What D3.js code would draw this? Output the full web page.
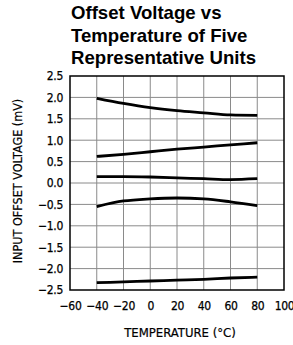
<!DOCTYPE html>
<html>
<head>
<meta charset="utf-8">
<script src="https://cdn.jsdelivr.net/npm/d3@7"></script>
<style>
  body { margin: 0; background: #fff; }
  svg { display: block; }
</style>
</head>
<body>
<div id="chart"></div>
<script>
// Temperatures (°C) where each unit was read
const temps = [-40, -20, 0, 20, 40, 60, 80];

// Input offset voltage (mV) for the five units
const unit1 = [1.98, 1.86, 1.76, 1.69, 1.64, 1.59, 1.58];
const unit2 = [0.62, 0.67, 0.73, 0.79, 0.84, 0.89, 0.94];
const unit3 = [0.15, 0.15, 0.14, 0.12, 0.10, 0.08, 0.10];
const unit4 = [-0.55, -0.42, -0.37, -0.35, -0.37, -0.44, -0.53];
const unit5 = [-2.33, -2.31, -2.29, -2.27, -2.25, -2.22, -2.20];
const units = [unit1, unit2, unit3, unit4, unit5];

const xTicks = [-60, -40, -20, 0, 20, 40, 60, 80, 100];
const yTicks = [2.5, 2.0, 1.5, 1.0, 0.5, 0.0, -0.5, -1.0, -1.5, -2.0, -2.5];

const titleLines = ['Offset Voltage vs', 'Temperature of Five', 'Representative Units'];
const xLabel = 'TEMPERATURE (°C)';
const yLabel = 'INPUT OFFSET VOLTAGE (mV)';

const width = 293, height = 345;
const margin = {top: 76, right: 9, bottom: 55, left: 70};
const narrow = '"Liberation Sans Narrow", "DejaVu Sans Condensed", "Liberation Sans", sans-serif';

const svg = d3.select('#chart').append('svg')
  .attr('width', width)
  .attr('height', height)
  .attr('viewBox', [0, 0, width, height]);

const x = d3.scaleLinear().domain([-60, 100]).range([margin.left, width - margin.right]);
const y = d3.scaleLinear().domain([-2.5, 2.5]).range([height - margin.bottom, margin.top]);

// Title
svg.append('g').selectAll('text')
  .data(titleLines)
  .enter().append('text')
  .attr('x', 71)
  .attr('y', (d, i) => 19 + i * 22.7)
  .style('font-family', '"Liberation Sans", Arial, sans-serif')
  .style('font-weight', 'bold')
  .style('font-size', '18.6px')
  .text(d => d);

// Grid
const grid = svg.append('g').attr('stroke', '#8a8a8a').attr('stroke-width', 1);
grid.selectAll('.vx')
  .data(xTicks.slice(1, -1))
  .enter().append('line')
  .attr('x1', d => x(d)).attr('x2', d => x(d))
  .attr('y1', y(2.5)).attr('y2', y(-2.5));
grid.selectAll('.hy')
  .data(yTicks.slice(1, -1))
  .enter().append('line')
  .attr('x1', x(-60)).attr('x2', x(100))
  .attr('y1', d => y(d)).attr('y2', d => y(d));

// Frame
svg.append('rect')
  .attr('x', x(-60)).attr('y', y(2.5))
  .attr('width', x(100) - x(-60)).attr('height', y(-2.5) - y(2.5))
  .attr('fill', 'none').attr('stroke', '#000').attr('stroke-width', 1.5);

// Axes (labels only)
const fmtMinus = s => s.replace('-', '\u2212');
const xAxis = svg.append('g')
  .attr('transform', `translate(0,${y(-2.5)})`)
  .call(d3.axisBottom(x).tickValues(xTicks).tickSize(0).tickPadding(11)
    .tickFormat(d => fmtMinus(d3.format('d')(d))));
const yAxis = svg.append('g')
  .attr('transform', `translate(${x(-60)},0)`)
  .call(d3.axisLeft(y).tickValues(yTicks).tickSize(0).tickPadding(7)
    .tickFormat(d => fmtMinus(d3.format('.1f')(d))));
[xAxis, yAxis].forEach(a => {
  a.select('.domain').remove();
  a.selectAll('text')
    .attr('fill', '#000')
    .style('font-family', narrow)
    .style('font-size', '12px')
    .style('letter-spacing', '-0.3px')
    .attr('stroke', '#000')
    .attr('stroke-width', 0.25);
});

// Curves
const line = d3.line()
  .x((d, i) => x(temps[i]))
  .y(d => y(d))
  .curve(d3.curveMonotoneX);
svg.append('g').selectAll('path')
  .data(units)
  .enter().append('path')
  .attr('d', line)
  .attr('fill', 'none')
  .attr('stroke', '#000')
  .attr('stroke-width', 2.8);

// Axis titles
svg.append('text')
  .attr('x', 180)
  .attr('y', 337)
  .attr('text-anchor', 'middle')
  .style('font-family', narrow)
  .style('font-size', '13px')
  .attr('stroke', '#000')
  .attr('stroke-width', 0.2)
  .text(xLabel);
svg.append('text')
  .attr('transform', `translate(22,181) rotate(-90)`)
  .attr('text-anchor', 'middle')
  .style('font-family', narrow)
  .style('font-size', '12.5px')
  .attr('stroke', '#000')
  .attr('stroke-width', 0.2)
  .text(yLabel);
</script>
</body>
</html>
